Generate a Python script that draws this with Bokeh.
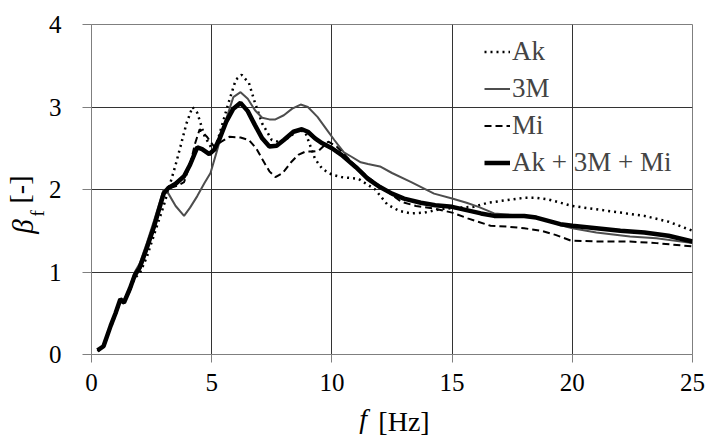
from bokeh.plotting import figure
from bokeh.models import FixedTicker, Range1d, Legend, LegendItem, LinearAxis
from bokeh.embed import file_html
from bokeh.resources import INLINE

# ---- data ----
f_ak = [0.25, 0.5, 0.8, 1.0, 1.2, 1.35, 1.6, 1.8, 2.0, 2.3, 2.6, 3.0, 3.2, 3.5, 3.7, 3.95, 4.2, 4.4, 4.7, 5.0, 5.2,
        5.45, 5.7, 6.0, 6.25, 6.55, 6.8, 7.1, 7.5, 7.9, 8.3, 8.6, 8.9, 9.3, 9.6, 10.0, 10.4, 11.1, 11.8, 12.3, 12.8,
        13.3, 13.85, 14.5, 15.2, 15.9, 16.5, 17.0, 17.5, 18.0, 18.5, 19.0, 20.0, 21.0, 22.0, 23.0, 24.0, 25.0]
b_ak = [0.04, 0.1, 0.33, 0.48, 0.65, 0.62, 0.78, 0.93, 0.98, 1.18, 1.45, 1.8, 2.0, 2.3, 2.52, 2.8, 3.0, 2.93, 2.65,
        2.5, 2.55, 2.8, 3.05, 3.33, 3.39, 3.29, 3.05, 2.8, 2.6, 2.57, 2.65, 2.73, 2.69, 2.37, 2.25, 2.18, 2.15, 2.13,
        2.0, 1.82, 1.74, 1.71, 1.72, 1.76, 1.78, 1.79, 1.84, 1.86, 1.88, 1.9, 1.9, 1.88, 1.8, 1.76, 1.72, 1.68, 1.61,
        1.5]

f_3m = [0.25, 0.5, 0.8, 1.0, 1.2, 1.35, 1.6, 1.8, 2.0, 2.3, 2.6, 3.0, 3.2, 3.5, 3.85, 4.1, 4.4, 4.7, 4.95, 5.2, 5.5,
        5.9, 6.2, 6.5, 6.8, 7.1, 7.4, 7.65, 8.0, 8.35, 8.7, 9.0, 9.4, 9.8, 10.1, 10.5, 10.8, 11.2, 11.5, 12.0, 12.5,
        13.3, 14.25, 15.0, 15.6, 16.1, 16.75, 17.5, 18.0, 18.5, 19.0, 19.5, 20.0, 21.0, 22.4, 23.5, 25.0]
b_3m = [0.05, 0.1, 0.36, 0.52, 0.68, 0.64, 0.82, 1.0, 1.1, 1.35, 1.62, 2.0, 1.95, 1.8, 1.68, 1.78, 1.92, 2.08, 2.2,
        2.45, 2.76, 3.12, 3.18, 3.1, 2.96, 2.87, 2.85, 2.85, 2.9, 2.98, 3.03, 3.0, 2.88, 2.72, 2.6, 2.45, 2.4, 2.33,
        2.31, 2.28, 2.2, 2.09, 1.95, 1.89, 1.84, 1.79, 1.71, 1.69, 1.68, 1.66, 1.62, 1.57, 1.53, 1.48, 1.43, 1.41,
        1.35]

f_mi = [0.25, 0.5, 0.8, 1.0, 1.2, 1.35, 1.6, 1.8, 2.0, 2.3, 2.6, 3.0, 3.3, 3.6, 3.85, 4.1, 4.3, 4.5, 4.8, 5.1, 5.4,
        5.75, 6.2, 6.55, 6.85, 7.1, 7.4, 7.65, 7.95, 8.3, 8.6, 8.9, 9.2, 9.45, 9.85, 10.2, 10.6, 11.0, 11.5, 12.0,
        12.9, 13.5, 14.25, 15.0, 15.65, 16.6, 17.3, 18.0, 18.7, 19.3, 19.95, 21.0, 22.4, 23.5, 25.0]
b_mi = [0.05, 0.1, 0.35, 0.5, 0.66, 0.62, 0.8, 0.96, 1.05, 1.3, 1.55, 1.95, 2.02, 2.05, 2.09, 2.3, 2.55, 2.73, 2.64,
        2.52, 2.58, 2.64, 2.63, 2.6, 2.5, 2.37, 2.22, 2.15, 2.2, 2.33, 2.42, 2.46, 2.46, 2.47, 2.58, 2.52, 2.4, 2.28,
        2.15, 2.04, 1.85, 1.8, 1.77, 1.72, 1.65, 1.56, 1.55, 1.53, 1.5, 1.45, 1.38, 1.37, 1.37, 1.35, 1.31]

f_all = [0.25, 0.5, 0.8, 1.0, 1.2, 1.35, 1.6, 1.8, 2.0, 2.3, 2.6, 3.0, 3.2, 3.5, 3.85, 4.1, 4.4, 4.6, 4.9, 5.1, 5.35,
         5.6, 5.9, 6.2, 6.5, 6.8, 7.1, 7.4, 7.7, 8.0, 8.4, 8.75, 9.0, 9.3, 9.6, 10.0, 10.4, 11.0, 11.5, 12.0, 12.5,
         13.0, 13.7, 14.3, 15.0, 15.6, 16.2, 16.75, 17.5, 18.0, 18.5, 19.0, 19.5, 20.0, 21.0, 22.0, 23.0, 24.0, 25.0]
b_all = [0.05, 0.1, 0.35, 0.5, 0.67, 0.63, 0.8, 0.96, 1.05, 1.29, 1.55, 1.95, 2.02, 2.07, 2.16, 2.3, 2.51, 2.49, 2.43,
         2.48, 2.63, 2.82, 2.98, 3.05, 2.95, 2.78, 2.62, 2.52, 2.53, 2.6, 2.7, 2.73, 2.7, 2.62, 2.56, 2.5, 2.42, 2.27,
         2.13, 2.03, 1.95, 1.89, 1.84, 1.81, 1.79, 1.75, 1.71, 1.68, 1.68, 1.68, 1.66, 1.62, 1.58, 1.56, 1.53, 1.5,
         1.48, 1.44, 1.37]

series_names = ["Ak", "3M", "Mi", "Ak + 3M + Mi"]
x_ticks = [0, 5, 10, 15, 20, 25]
y_ticks = [0, 1, 2, 3, 4]

FONT = "Liberation Serif"

# positions (along the axes) of the pieces of the axis titles
X_POS_F = 11.3      # italic "f"
X_POS_HZ = 13.0     # "[Hz]"
Y_POS_BETA = 1.55   # italic beta
Y_POS_SUB = 1.71    # subscript f

p = figure(width=706, height=436, output_backend="svg", toolbar_location=None,
           x_range=Range1d(0, 25), y_range=Range1d(0, 4),
           min_border_left=89, min_border_right=14, min_border_top=24, min_border_bottom=79)

p.background_fill_color = "white"
p.border_fill_color = "white"
p.outline_line_color = "#7f7f7f"
p.outline_line_width = 1

for ax in (p.xaxis[0], p.yaxis[0]):
    ax.major_label_text_font = FONT
    ax.major_label_text_font_size = "25px"
    ax.major_label_text_color = "black"
    ax.axis_line_color = "#7f7f7f"
    ax.major_tick_line_color = "#7f7f7f"
    ax.major_tick_in = 0
    ax.minor_tick_in = 0
    ax.minor_tick_out = 0

p.xaxis.ticker = FixedTicker(ticks=x_ticks)
p.yaxis.ticker = FixedTicker(ticks=y_ticks)
p.xaxis.major_tick_out = 8
p.yaxis.major_tick_out = 9
p.xaxis.major_label_standoff = 11
p.yaxis.major_label_standoff = 21

p.xgrid.grid_line_color = "#333333"
p.ygrid.grid_line_color = "#333333"
p.xgrid.grid_line_width = 1
p.ygrid.grid_line_width = 1


def text_axis(pos, text, size, style, standoff, orientation="horizontal"):
    a = LinearAxis(ticker=FixedTicker(ticks=[pos]), major_label_overrides={pos: text})
    a.axis_line_color = None
    a.major_tick_line_color = None
    a.minor_tick_line_color = None
    a.major_tick_in = 0
    a.major_tick_out = 0
    a.minor_tick_in = 0
    a.minor_tick_out = 0
    a.major_label_text_font = FONT
    a.major_label_text_font_size = size
    a.major_label_text_font_style = style
    a.major_label_text_color = "black"
    a.major_label_standoff = standoff
    a.major_label_orientation = orientation
    return a


# x axis title: f [Hz]
ax_f = text_axis(X_POS_F, "f", "28px", "italic", 9)
ax_hz = text_axis(X_POS_HZ, "[Hz]", "28px", "normal", -31)
ax_hz.axis_label = "\u00a0"
ax_hz.axis_label_text_font_size = "1px"
ax_hz.axis_label_standoff = -17
p.add_layout(ax_f, "below")
p.add_layout(ax_hz, "below")

# y axis title: beta_f [-]
ax_sub = text_axis(Y_POS_SUB, "f", "19px", "normal", -3, "vertical")
ax_beta = text_axis(Y_POS_BETA, "β", "29px", "italic", -14, "vertical")
ax_beta.axis_label = "[-]"
ax_beta.axis_label_text_font = FONT
ax_beta.axis_label_text_font_size = "28px"
ax_beta.axis_label_text_font_style = "normal"
ax_beta.axis_label_text_color = "black"
ax_beta.axis_label_standoff = -31
p.add_layout(ax_sub, "left")
p.add_layout(ax_beta, "left")

r_ak = p.line(f_ak, b_ak, line_color="black", line_width=2.5, line_dash="2 4")
r_3m = p.line(f_3m, b_3m, line_color="#4d4d4d", line_width=2)
r_mi = p.line(f_mi, b_mi, line_color="black", line_width=2, line_dash="7 4")
r_all = p.line(f_all, b_all, line_color="black", line_width=4.5)

legend = Legend(items=[LegendItem(label=series_names[0], renderers=[r_ak]),
                       LegendItem(label=series_names[1], renderers=[r_3m]),
                       LegendItem(label=series_names[2], renderers=[r_mi]),
                       LegendItem(label=series_names[3], renderers=[r_all])],
                location=(393, 173))
legend.label_text_font = FONT
legend.label_text_font_size = "27px"
legend.label_height = 37
legend.glyph_height = 37
legend.glyph_width = 26
legend.label_standoff = 2
legend.spacing = 0
legend.padding = 0
legend.margin = 0
legend.border_line_color = None
legend.background_fill_alpha = 0
p.add_layout(legend, "center")

open("out.html", "w").write(file_html(p, INLINE))
